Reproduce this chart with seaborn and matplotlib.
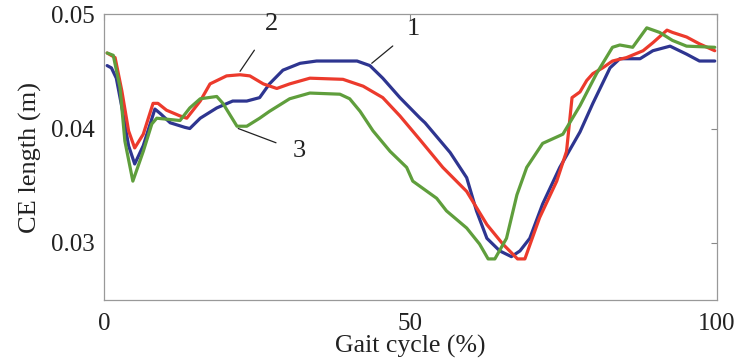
import numpy as np
import pandas as pd
import matplotlib
matplotlib.use("Agg")
import matplotlib.pyplot as plt
import seaborn as sns

# CE length traces over the gait cycle for three conditions
x1 = [0.5, 1.2, 2.0, 3.0, 4.0, 5.0, 6.4, 8.3, 9.2, 10.8, 13.2, 14.0, 15.7, 18.4, 21.0,
      23.3, 25.4, 27.0, 29.2, 32.0, 34.7, 41.3, 43.4, 45.5, 48.3, 51.6, 52.4, 56.5, 59.2,
      60.8, 62.5, 64.6, 66.5, 67.9, 69.5, 71.6, 74.4, 77.7, 79.8, 82.6, 84.2, 87.5, 89.6,
      92.4, 95.1, 97.2, 99.7]
y1 = [0.0455, 0.0453, 0.0444, 0.0416, 0.0385, 0.0369, 0.0385, 0.0417, 0.0413, 0.0405,
      0.0401, 0.0400, 0.0409, 0.0418, 0.0424, 0.0424, 0.0427, 0.0439, 0.0451, 0.0457,
      0.0459, 0.0459, 0.0455, 0.0444, 0.0427, 0.0409, 0.0405, 0.0379, 0.0357, 0.0328,
      0.0304, 0.0293, 0.0288, 0.0293, 0.0304, 0.0334, 0.0366, 0.0397, 0.0422, 0.0453,
      0.0461, 0.0461, 0.0468, 0.0472, 0.0465, 0.0459, 0.0459]

x2 = [0.5, 1.8, 2.9, 4.0, 5.0, 6.4, 8.0, 8.8, 10.2, 12.4, 13.5, 15.7, 17.3, 20.0, 22.2,
      23.8, 26.0, 28.2, 30.3, 33.6, 39.0, 42.3, 45.5, 48.3, 51.6, 55.3, 59.2, 62.5, 65.1,
      67.5, 68.7, 71.1, 73.9, 75.5, 76.4, 77.7, 78.8, 79.8, 81.4, 83.0, 85.3, 88.0, 89.6,
      91.9, 92.8, 95.1, 97.2, 99.7]
y2 = [0.0466, 0.0462, 0.0433, 0.0398, 0.0383, 0.0395, 0.0422, 0.0422, 0.0416, 0.0411,
      0.0409, 0.0424, 0.0439, 0.0446, 0.0447, 0.0446, 0.0439, 0.0435, 0.0439, 0.0444,
      0.0443, 0.0437, 0.0427, 0.0411, 0.0390, 0.0366, 0.0345, 0.0316, 0.0299, 0.0286,
      0.0286, 0.0322, 0.0354, 0.0380, 0.0427, 0.0432, 0.0442, 0.0448, 0.0453, 0.0459,
      0.0462, 0.0468, 0.0475, 0.0486, 0.0484, 0.0480, 0.0474, 0.0468]

x3 = [0.5, 1.5, 2.6, 3.4, 4.7, 6.4, 7.8, 8.6, 12.4, 14.0, 15.7, 18.4, 19.4, 21.7, 23.3,
      25.4, 27.0, 30.3, 33.6, 38.5, 40.1, 41.8, 43.9, 46.7, 49.4, 50.4, 54.3, 55.9, 59.2,
      61.3, 62.7, 63.8, 65.7, 67.4, 69.0, 71.6, 74.9, 77.7, 80.4, 83.0, 84.2, 86.3, 88.6,
      90.7, 92.8, 95.1, 99.7]
y3 = [0.0466, 0.0464, 0.0436, 0.0389, 0.0354, 0.0380, 0.0404, 0.0409, 0.0407, 0.0418,
      0.0426, 0.0428, 0.0422, 0.0402, 0.0402, 0.0409, 0.0415, 0.0426, 0.0431, 0.0430,
      0.0426, 0.0415, 0.0398, 0.0380, 0.0366, 0.0354, 0.0339, 0.0328, 0.0313, 0.0299,
      0.0286, 0.0286, 0.0304, 0.0342, 0.0366, 0.0387, 0.0395, 0.0420, 0.0448, 0.0471,
      0.0473, 0.0471, 0.0488, 0.0484, 0.0477, 0.0472, 0.0471]

series_names = ["1", "2", "3"]
series_colors = ["#2e3590", "#ec3a2c", "#5f9e3c"]

df = pd.concat([
    pd.DataFrame({"gait": x1, "ce": y1, "curve": "1"}),
    pd.DataFrame({"gait": x2, "ce": y2, "curve": "2"}),
    pd.DataFrame({"gait": x3, "ce": y3, "curve": "3"}),
], ignore_index=True)

sns.set_theme(style="white")
plt.rcParams["font.family"] = ["Liberation Serif", "DejaVu Serif"]

fig = plt.figure(figsize=(7.38, 3.62), dpi=100)
ax = fig.add_axes([0.141, 0.171, 0.830, 0.790])

sns.lineplot(data=df, x="gait", y="ce", hue="curve", hue_order=series_names,
             palette=dict(zip(series_names, series_colors)), estimator=None,
             sort=False, linewidth=2.3, legend=False, ax=ax)

ax.set_xlim(0, 100)
ax.set_ylim(0.025, 0.05)
ax.set_xticks([0, 50, 100])
ax.set_xticklabels(["0", "50", "100"])
ax.set_yticks([0.03, 0.04, 0.05])
ax.set_yticklabels(["0.03", "0.04", "0.05"])
ax.tick_params(axis="both", direction="in", length=4, width=0.8, color="#888888",
               top=True, right=True, labelsize=18, labelcolor="#222222")
ax.tick_params(axis="x", pad=9)
ax.tick_params(axis="y", pad=7)
for sp in ax.spines.values():
    sp.set_color("#999999")
    sp.set_linewidth(0.9)

ax.set_xlabel("Gait cycle (%)", fontsize=18.5, color="#222222", labelpad=0)
ax.set_ylabel("CE length (m)", fontsize=19, color="#222222", labelpad=6)

# curve labels with leader lines
labels = [("1", (43.7, 0.0457), (50.5, 0.0487)),
          ("2", (22.2, 0.0450), (27.4, 0.0491)),
          ("3", (21.9, 0.0400), (31.8, 0.0380))]
for txt, pt, tp in labels:
    ax.annotate(txt, xy=pt, xytext=tp, fontsize=19, color="#222222",
                ha="center", va="center",
                arrowprops=dict(arrowstyle="-", color="#222222", lw=0.9,
                                shrinkA=10, shrinkB=0))

fig.savefig("out.png", dpi=100)
